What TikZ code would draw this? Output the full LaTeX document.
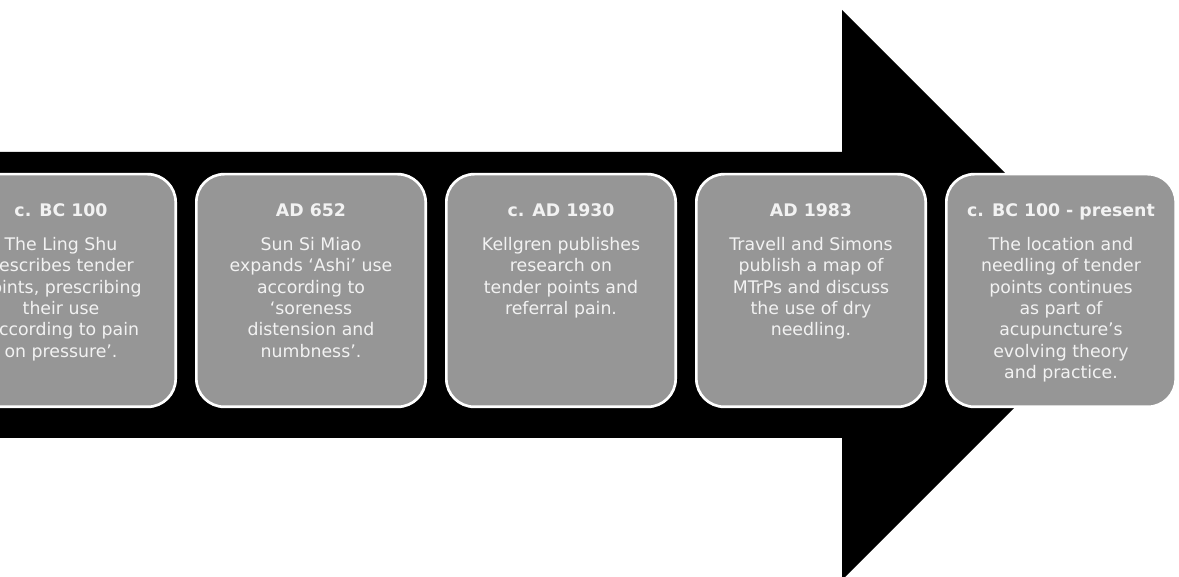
\documentclass[tikz,border=0pt]{standalone}
\usepackage{fontspec}
\setmainfont{DejaVu Sans}
\definecolor{boxgrey}{RGB}{150,150,150}
\definecolor{boxtext}{RGB}{242,242,242}
\tikzset{
  evbox/.style={draw=white, line width=2pt, fill=boxgrey, rounded corners=21pt,
    minimum width=172pt, minimum height=174.5pt, inner sep=0pt},
  evtext/.style={anchor=north, text=boxtext, align=center, inner sep=0pt,
    font=\fontsize{13}{16}\selectfont},
  evyear/.style={font=\bfseries\strut}
}
\begin{document}
\begin{tikzpicture}[x=0.75pt,y=-0.75pt]
  \useasboundingbox (0,0) rectangle (1179,577);
  \clip (0,0) rectangle (1179,577);
  \fill[black] (-20,152) -- (842,152) -- (842,10) -- (1127,295) -- (842,580) -- (842,438) -- (-20,438) -- cycle;
  \node[evbox] (e1) at (61,290.5) {};
  \node[evbox] (e2) at (311,290.5) {};
  \node[evbox] (e3) at (561,290.5) {};
  \node[evbox] (e4) at (811,290.5) {};
  \node[evbox] (e5) at (1061,290.5) {};
  \node[evtext] (t1) at ([yshift=-21.2pt]e1.north) {\textbf{\strut c. BC 100}\\[9.65pt]
    The Ling Shu\\ describes tender\\ points, prescribing\\ their use\\ ‘according to pain\\ on pressure’.};
  \node[evtext] (t2) at ([yshift=-21.2pt]e2.north) {\textbf{\strut AD 652}\\[9.65pt]
    Sun Si Miao\\ expands ‘Ashi’ use\\ according to\\ ‘soreness\\ distension and\\ numbness’.};
  \node[evtext] (t3) at ([yshift=-21.2pt]e3.north) {\textbf{\strut c. AD 1930}\\[9.65pt]
    Kellgren publishes\\ research on\\ tender points and\\ referral pain.};
  \node[evtext] (t4) at ([yshift=-21.2pt]e4.north) {\textbf{\strut AD 1983}\\[9.65pt]
    Travell and Simons\\ publish a map of\\ MTrPs and discuss\\ the use of dry\\ needling.};
  \node[evtext] (t5) at ([yshift=-21.2pt]e5.north) {\textbf{\strut c. BC 100 - present}\\[9.65pt]
    The location and\\ needling of tender\\ points continues\\ as part of\\ acupuncture’s\\ evolving theory\\ and practice.};
\end{tikzpicture}
\end{document}
